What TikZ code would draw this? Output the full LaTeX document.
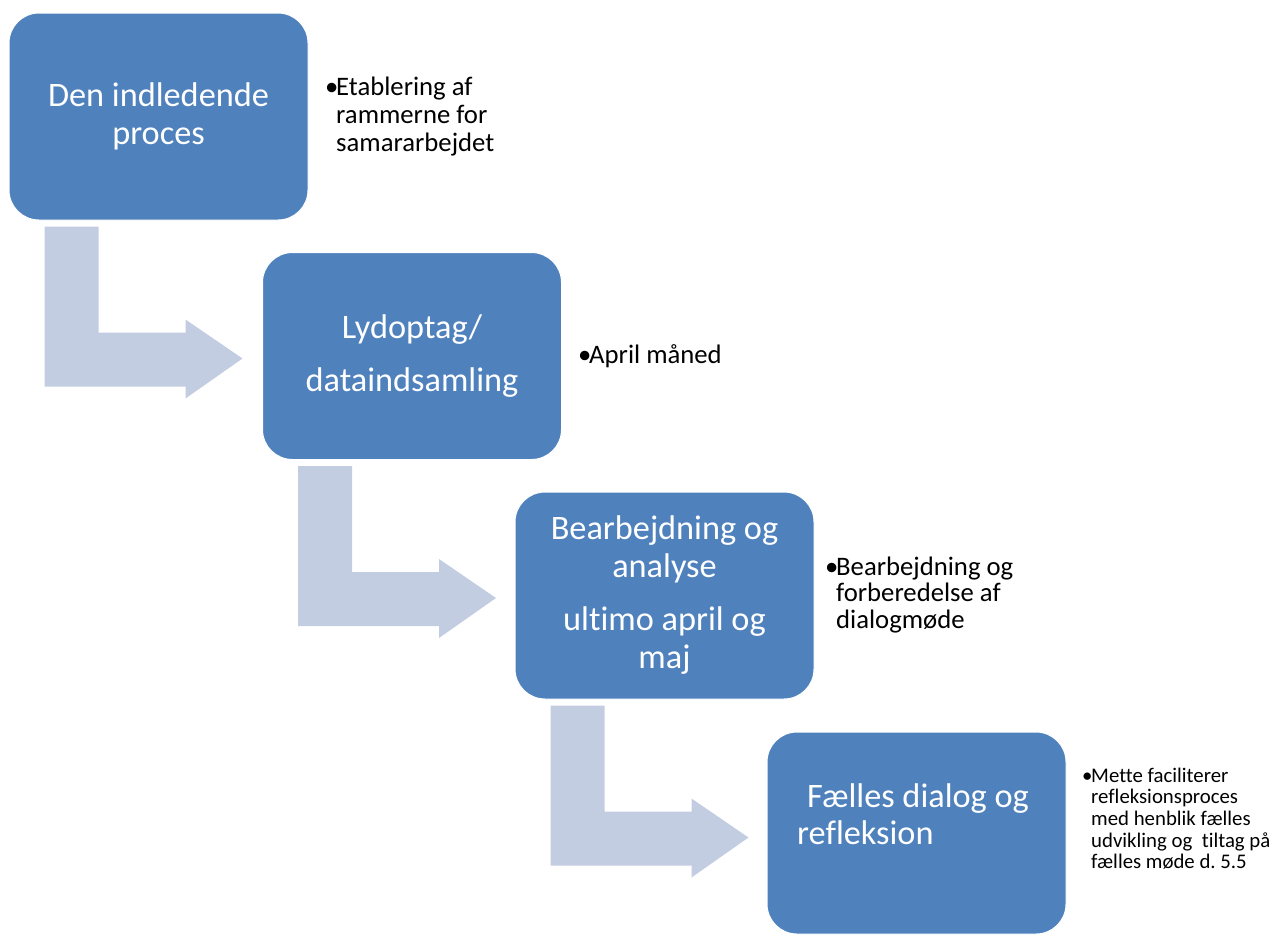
\documentclass[tikz,border=0pt]{standalone}
\usepackage{fontspec}
\setmainfont{Carlito}[Ligatures=NoCommon]
\frenchspacing
\definecolor{boxblue}{RGB}{79,129,189}
\definecolor{arrowblue}{RGB}{195,205,226}
\newcommand\bulletpar[3]{\parbox[t]{#1}{\hangindent=#2\hangafter=1\noindent\makebox[#2][l]{•}#3}}
\begin{document}
\begin{tikzpicture}[x=1pt,y=-1pt,
  stepbox/.style={fill=boxblue, draw=white, line width=1pt, rounded corners=30pt,
    minimum width=299pt, minimum height=207pt, inner sep=0pt,
    text=white, align=center, font=\fontsize{34.3}{38}\selectfont},
  boxtext/.style={text=white, inner sep=0pt, anchor=base west, font=\fontsize{34.3}{37}\selectfont},
  sidetext/.style={anchor=base west, inner sep=0pt, text=black},
  bendarrow/.style={fill=arrowblue}]
\useasboundingbox (0,0) rectangle (1274,935);

% boxes
\node[stepbox] (b1) at (158.5,116.5) {Den indledende\\proces};
\node[stepbox] (b2) at (412,356) {Lydoptag/\\[15pt]dataindsamling};
\node[stepbox] (b3) at (664.5,595.5) {Bearbejdning og\\analyse\\[15pt]ultimo april og\\maj};
\node[stepbox, minimum height=202pt] (b4) at (916.5,833) {};
\node[boxtext] (t4) at (797,807) {\parbox[t]{260pt}{\raggedright\hspace*{10pt}Fælles dialog og\\refleksion}};

% bent arrows
\foreach \b in {b1,b2,b3}{
  \begin{scope}[shift={(\b.south west)}]
    \fill[bendarrow] (36,6) -- (90,6) -- (90,112) -- (177,112) -- (177,99) -- (234,138)
      -- (177,178) -- (177,166) -- (36,166) -- cycle;
  \end{scope}
}

% side texts
\node[sidetext, font=\fontsize{26.7}{28}\selectfont] (s1) at (325,95)
  {\bulletpar{240pt}{11pt}{Etablering af\newline rammerne for\newline samararbejdet}};
\node[sidetext, font=\fontsize{26.7}{28}\selectfont] (s2) at (578,363)
  {\bulletpar{240pt}{11pt}{April måned}};
\node[sidetext, font=\fontsize{26.7}{26.5}\selectfont] (s3) at (825,575)
  {\bulletpar{260pt}{11pt}{Bearbejdning og\newline forberedelse af\newline dialogmøde}};
\node[sidetext, font=\fontsize{20.8}{21.7}\selectfont] (s4) at (1082,782)
  {\bulletpar{250pt}{9pt}{Mette faciliterer\newline refleksionsproces\newline med henblik fælles\newline udvikling og\ \ tiltag på\newline fælles møde d. 5.5}};
\end{tikzpicture}
\end{document}
